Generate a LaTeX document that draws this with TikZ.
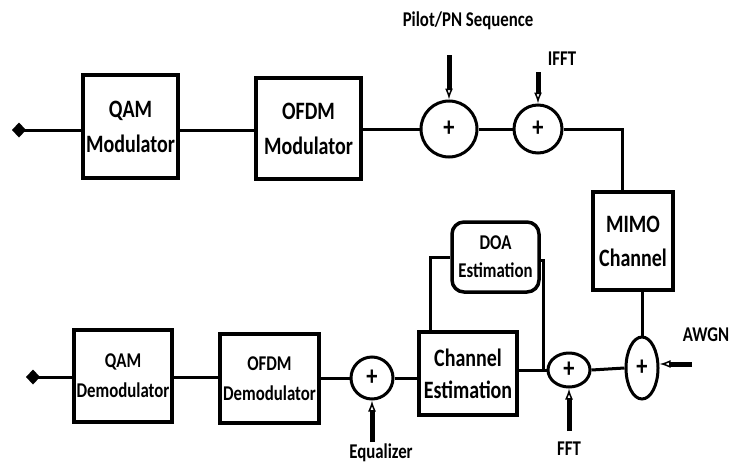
\documentclass[tikz,border=0pt]{standalone}
\usepackage{fontspec}
\setmainfont{Carlito}[FakeStretch=0.8]
\usetikzlibrary{arrows.meta,shapes.geometric,calc}
\begin{document}
\begin{tikzpicture}[x=1pt,y=-1pt,
  box/.style={draw,line width=3.5pt,inner sep=0pt,align=center,font=\bfseries\fontsize{25}{28}\selectfont},
  sbox/.style={box,font=\bfseries\fontsize{21}{24}\selectfont},
  sumc/.style={draw,circle,line width=3pt,inner sep=0pt,font=\bfseries\fontsize{28}{28}\selectfont},
  sume/.style={draw,ellipse,line width=3pt,inner sep=0pt,font=\bfseries\fontsize{28}{28}\selectfont},
  wire/.style={line width=3pt},
  endmark/.style={line width=3pt,{Diamond[length=14pt,width=15pt]}-},
  inarrow/.style={line width=5pt,-{Latex[open,length=11pt,width=8pt,line width=1.5pt]}},
  lbl/.style={font=\bfseries\fontsize{21}{21}\selectfont,inner sep=0pt}]
\useasboundingbox (0,0) rectangle (730,463);

% top chain
\node[box,minimum width=95pt,minimum height=103pt] (qam) at (130.5,126.5) {QAM\\[7pt]Modulator};
\node[box,minimum width=105pt,minimum height=101pt] (ofdm) at (308.5,128.5) {OFDM\\[7pt]Modulator};
\node[sumc,minimum size=56pt] (s1) at (449,129) {+};
\node[sumc,minimum size=48pt] (s2) at (538,129) {+};
\node[box,minimum width=80pt,minimum height=98pt] (mimo) at (633,241) {MIMO\\[6pt]Channel};

% bottom chain
\node[sume,minimum width=32pt,minimum height=62pt] (sa) at (642,368) {+};
\node[sume,minimum width=42pt,minimum height=34pt] (sf) at (569,370) {+};
\node[box,minimum width=98pt,minimum height=83pt] (ce) at (468,373.5) {Channel\\[4pt]Estimation};
\node[sbox,rounded corners=12pt,minimum width=87pt,minimum height=70pt] (doa) at (495.5,257) {DOA\\[4pt]Estimation};
\node[sumc,minimum size=42pt] (se) at (372,378) {+};
\node[sbox,minimum width=99pt,minimum height=89pt] (ofdmd) at (269.5,378.5) {OFDM\\[6pt]Demodulator};
\node[sbox,minimum width=98pt,minimum height=92pt] (qamd) at (123,376) {QAM\\[6pt]Demodulator};

% labels
\node[lbl] (lpilot) at (468,21) {Pilot/PN Sequence};
\node[lbl] (lifft) at (562,59) {IFFT};
\node[lbl] (lawgn) at (706,335) {AWGN};
\node[lbl] (lfft) at (569,449) {FFT};
\node[lbl] (leq) at (381,453) {Equalizer};

% free ends
\coordinate (inq) at (12,130);
\coordinate (outq) at (26,377);
\coordinate (pin) at (449,55);
\coordinate (iin) at (538,72);
\coordinate (ain) at (692,364);
\coordinate (fin) at (569,431);
\coordinate (ein) at (372,442);

% top connectors
\draw[endmark] (inq) -- (qam.west |- inq);
\draw[wire] (qam.east |- inq) -- (ofdm.west |- inq);
\draw[wire] (ofdm.east |- s1) -- (s1.west);
\draw[wire] (s1.east) -- (s2.west);
\draw[wire] (s2.east) -| ($(mimo.north)+(-11,0)$);
\draw[wire] (mimo.south -| sa.north) -- (sa.north);

% bottom connectors
\draw[wire] (sa.west) -- (sf.east);
\draw[wire] (sf.west) -- (sf.west -| ce.east);
\draw[wire] ($(ce.north west)+(13,0)$) |- (doa.west);
\draw[wire] ($(doa.east)+(0,3)$) -| ($(sf.west)+(-3,0)$);
\draw[wire] (se.east) -- (se.east -| ce.west);
\draw[wire] (se.west) -- (se.west -| ofdmd.east);
\draw[wire] (ofdmd.west |- outq) -- (qamd.east |- outq);
\draw[endmark] (outq) -- (qamd.west |- outq);

% input arrows
\draw[inarrow] (pin) -- (s1.north);
\draw[inarrow] (iin) -- (s2.north);
\draw[inarrow] (ain) -- (sa.east |- ain);
\draw[inarrow] (fin) -- (sf.south);
\draw[inarrow] (ein) -- (se.south);
\end{tikzpicture}
\end{document}
